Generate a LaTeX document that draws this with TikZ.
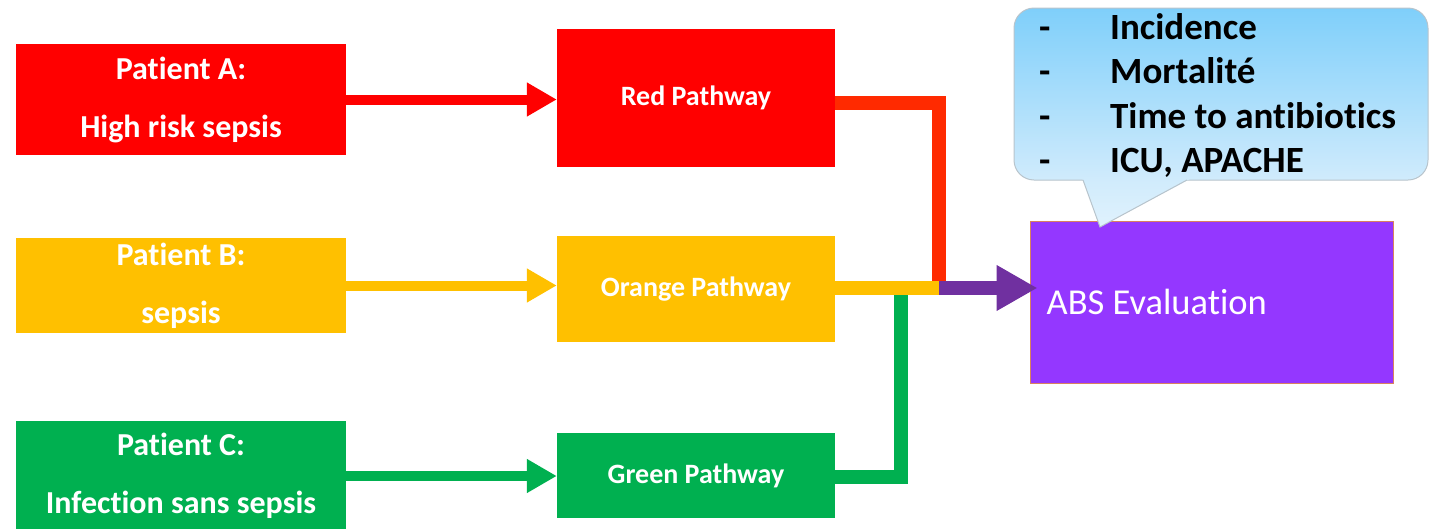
\documentclass[tikz,border=0pt]{standalone}
\usepackage{fontspec}
\setmainfont{Carlito}[Ligatures=NoCommon]
\usetikzlibrary{arrows.meta}
\definecolor{cRed}{HTML}{FF0000}
\definecolor{cOrange}{HTML}{FFC000}
\definecolor{cGreen}{HTML}{00B050}
\definecolor{cLinkRed}{HTML}{FF2A00}
\definecolor{cPurple}{HTML}{7030A0}
\definecolor{cViolet}{HTML}{9437FF}
\definecolor{cAbsEdge}{HTML}{D98060}
\definecolor{cBubbleTop}{HTML}{7FCFFA}
\definecolor{cBubbleBot}{HTML}{D0EBFC}
\definecolor{cBubbleTip}{HTML}{E0F2FD}
\definecolor{cBubbleEdge}{HTML}{B8C4CC}

\begin{document}
\begin{tikzpicture}[x=1pt,y=-1pt,
  patient/.style={fill=#1, text=white, minimum width=330pt, inner sep=0pt,
    align=center, font=\fontsize{32}{58}\selectfont\bfseries},
  pathway/.style={fill=#1, text=white, minimum width=278pt, inner sep=0pt,
    font=\fontsize{28}{32}\selectfont\bfseries},
  feed/.style={draw=#1, line width=10pt, -{Triangle[length=30pt,width=32pt]}},
  link/.style={draw=#1, line width=14pt, line join=miter},
]
\useasboundingbox (0,0) rectangle (1438,528);

% patients
\node[patient=cRed, minimum height=111pt] (pa) at (181,99.5) {Patient A:\\High risk sepsis};
\node[patient=cOrange, minimum height=95pt] (pb) at (181,285.5) {Patient B:\\sepsis};
\node[patient=cGreen, minimum height=110pt] (pc) at (181,476) {Patient C:\\Infection sans sepsis};

% pathways
\node[pathway=cRed, minimum height=138pt] (rp) at (696,98) {Red Pathway};
\node[pathway=cOrange, minimum height=106pt] (op) at (696,289) {Orange Pathway};
\node[pathway=cGreen, minimum height=85pt] (gp) at (696,475.5) {Green Pathway};

% evaluation box and its label
\node[fill=cViolet, draw=cAbsEdge, line width=1pt, minimum width=363pt,
  minimum height=162pt, inner sep=0pt] (abs) at (1211.5,302) {};
\node[anchor=west, inner sep=0pt, text=white, font=\fontsize{36.5}{40}\selectfont]
  (abslabel) at ([xshift=17pt]abs.west) {ABS Evaluation};

% speech bubble with outcome list
\node[rounded corners=20pt, top color=cBubbleTop, bottom color=cBubbleBot,
  draw=cBubbleEdge, line width=1pt, minimum width=414pt, minimum height=172pt,
  inner sep=0pt] (bubble) at (1221,94) {};
\shade[top color=cBubbleBot, bottom color=cBubbleTip]
  (1082.3,178.5) -- (1100,227) -- (1190.7,178.5) -- cycle;
\draw[cBubbleEdge, line width=1pt] (1083,180) -- (1100,227) -- (1187,180);
\node[anchor=west, inner sep=0pt, align=left,
  font=\fontsize{37}{44.5}\selectfont\bfseries] (items) at (1039,95.5)
  {\makebox[71pt][l]{-}Incidence\\
   \makebox[71pt][l]{-}Mortalité\\
   \makebox[71pt][l]{-}Time to antibiotics\\
   \makebox[71pt][l]{-}ICU, APACHE};

% patient -> pathway arrows
\draw[feed=cRed] (pa.east) -- (pa.east -| rp.west);
\draw[feed=cOrange] (pb.east) -- (pb.east -| op.west);
\draw[feed=cGreen] (pc.east) -- (pc.east -| gp.west);

% pathways merging into the evaluation
\coordinate (join) at (939,288);
\coordinate (gjoin) at (901,288);
\draw[link=cLinkRed] ([yshift=-5pt]rp.east) -| (join);
\draw[link=cGreen] ([yshift=-1.5pt]gp.east) -| (gjoin);
\draw[link=cOrange] (op.east |- join) -- (join);
\draw[link=cPurple, -{Triangle[length=41pt,width=43pt]}] (join) -- ([xshift=8pt]join -| abs.west);
\end{tikzpicture}
\end{document}
